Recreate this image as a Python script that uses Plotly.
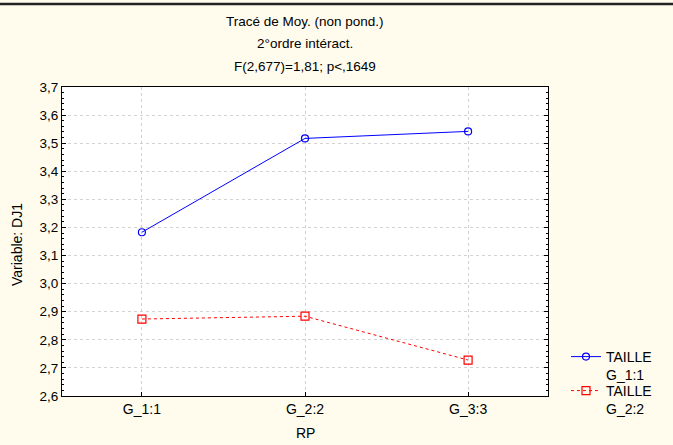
import plotly.graph_objects as go

categories = ["G_1:1", "G_2:2", "G_3:3"]
taille_g11 = [3.183, 3.517, 3.542]
taille_g22 = [2.874, 2.884, 2.728]
y_ticks = [2.6, 2.7, 2.8, 2.9, 3.0, 3.1, 3.2, 3.3, 3.4, 3.5, 3.6, 3.7]

FONT = "Liberation Sans, Arial, Helvetica, sans-serif"
x_idx = list(range(len(categories)))

fig = go.Figure()
fig.add_trace(go.Scatter(
    x=x_idx, y=taille_g11, mode="lines+markers", name="TAILLE<br>G_1:1",
    line=dict(color="#0000FF", width=1), legend="legend",
    marker=dict(symbol="circle-open", size=7, color="#0000FF", line=dict(width=1.2)),
))
fig.add_trace(go.Scatter(
    x=x_idx, y=taille_g22, mode="lines+markers", name="TAILLE<br>G_2:2",
    line=dict(color="#FF0000", width=1, dash="dot"), legend="legend2",
    marker=dict(symbol="square-open", size=8, color="#FF0000", line=dict(width=1.2)),
))

L, R, T, B = 62, 548, 87, 396
W = R - L
H = B - T
def py(pix):
    return 1 + (T - pix) / H
def px(pix):
    return (pix - L) / W

title_lines = ["Tracé de Moy. (non pond.)", "2°ordre intéract.", "F(2,677)=1,81; p<,1649"]
title_y = [21, 44, 66]
annotations = []
for txt, yp in zip(title_lines, title_y):
    annotations.append(dict(text=txt, x=0.5, y=py(yp), xref="paper", yref="paper",
                            showarrow=False, xanchor="center", yanchor="middle",
                            font=dict(size=13.5, color="#000000", family=FONT)))
annotations.append(dict(text="RP", x=0.5, y=py(433), xref="paper", yref="paper",
                        showarrow=False, xanchor="center", yanchor="middle",
                        font=dict(size=14, color="#000000", family=FONT)))
annotations.append(dict(text="Variable: DJ1", x=px(17), y=py(245), xref="paper", yref="paper",
                        showarrow=False, xanchor="center", yanchor="middle", textangle=-90,
                        font=dict(size=14, color="#000000", family=FONT)))

legend_common = dict(xanchor="left", yanchor="top", valign="top",
                     bgcolor="rgba(0,0,0,0)", font=dict(size=14, family=FONT),
                     tracegroupgap=0, itemwidth=30)

fig.update_layout(
    width=673, height=445,
    margin=dict(l=L, r=673 - R, t=T, b=445 - B, pad=0, autoexpand=False),
    paper_bgcolor="#FFFCEE",
    plot_bgcolor="#FFFFFF",
    separators=",.",
    font=dict(family=FONT, size=14, color="#000000"),
    showlegend=True,
    legend=dict(x=px(566), y=py(341), **legend_common),
    legend2=dict(x=px(566), y=py(375), **legend_common),
    annotations=annotations,
    shapes=[dict(type="line", xref="paper", yref="paper", x0=px(0), x1=px(673),
                 y0=py(4), y1=py(4), line=dict(color="#222222", width=2.5))],
)
fig.update_xaxes(
    range=[-0.49, 2.49], tickmode="array", tickvals=x_idx, ticktext=categories,
    showgrid=True, gridcolor="#D2D2D2", griddash="dot", gridwidth=1,
    showline=True, linecolor="#000000", linewidth=1, mirror=True,
    ticks="inside", ticklen=4, tickcolor="#000000", zeroline=False,
    tickfont=dict(size=14, family=FONT), automargin=False,
)
fig.update_yaxes(
    range=[2.6, 3.7], tickmode="array", tickvals=y_ticks, tickformat=".1f",
    showgrid=True, gridcolor="#D2D2D2", griddash="dot", gridwidth=1,
    showline=True, linecolor="#000000", linewidth=1, mirror="ticks",
    ticks="inside", ticklen=4, tickcolor="#000000", zeroline=False,
    tickfont=dict(size=13.5, family=FONT), automargin=False,
    minor=dict(ticks="inside", ticklen=2, dtick=0.02, tick0=2.6, tickcolor="#000000", showgrid=False),
)

fig.write_html("out.html", config={"displayModeBar": False},
               post_script="document.body.style.margin='0';document.body.style.overflow='hidden';")
